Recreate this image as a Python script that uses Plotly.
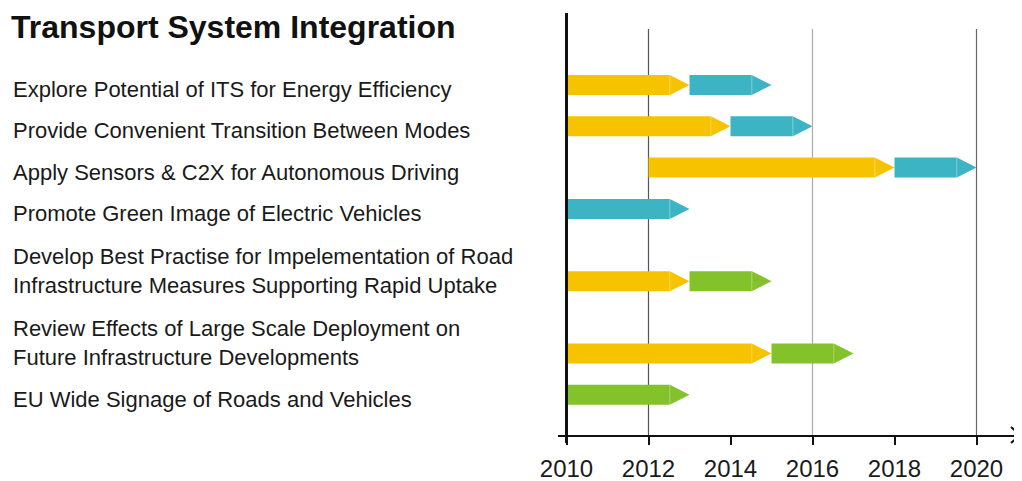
import plotly.graph_objects as go

# roadmap rows (top to bottom)
ACTIONS = [
    "Explore Potential of ITS for Energy Efficiency",
    "Provide Convenient Transition Between Modes",
    "Apply Sensors & C2X for Autonomous Driving",
    "Promote Green Image of Electric Vehicles",
    "Develop Best Practise for Impelementation of Road<br>Infrastructure Measures Supporting Rapid Uptake",
    "Review Effects of Large Scale Deployment on<br>Future Infrastructure Developments",
    "EU Wide Signage of Roads and Vehicles",
]

# phases per row: (start year, end year, phase)
PHASES = [
    [(2010, 2013, "yellow"), (2013, 2015, "cyan")],
    [(2010, 2014, "yellow"), (2014, 2016, "cyan")],
    [(2012, 2018, "yellow"), (2018, 2020, "cyan")],
    [(2010, 2013, "cyan")],
    [(2010, 2013, "yellow"), (2013, 2015, "green")],
    [(2010, 2015, "yellow"), (2015, 2017, "green")],
    [(2010, 2013, "green")],
]

YEAR_TICKS = [2010, 2012, 2014, 2016, 2018, 2020]
GRID_YEARS = [2012, 2016, 2020]

COLORS = {"yellow": "#F7C300", "cyan": "#3CB4C4", "green": "#83C22A"}
GRID_COLORS = {2012: "#555555", 2016: "#aaaaaa", 2020: "#666666"}
FONT = "Arial, Liberation Sans, sans-serif"

# page body has an 8px margin, so the figure is drawn 8px smaller
OFF = 8
W, H = 1022 - OFF, 481 - OFF
L, R, T, B = 558 - OFF, 2, 13 - OFF, 46
PX_YEAR = 41.0
ROW_PX = 41.3
FIRST_ROW = 85 - OFF
TIP = 0.48          # arrow tip length in years
HALF = 10 / ROW_PX  # half bar height in row units

# row positions: two-line labels take extra room
pos, ypos = 0.0, []
for i, a in enumerate(ACTIONS):
    if i:
        pos += 1 + 0.75 * a.count("<br>")
    ypos.append(pos)

x0 = 2010 - (566.5 - OFF - L) / PX_YEAR
x1 = x0 + (W - L - R) / PX_YEAR
ytop = -(FIRST_ROW - T) / ROW_PX
ybot = (H - B - FIRST_ROW) / ROW_PX

fig = go.Figure()
for y, segs in zip(ypos, PHASES):
    for s, e, ph in segs:
        fig.add_trace(go.Scatter(
            x=[s, e - TIP, e, e - TIP, s, s],
            y=[y - HALF, y - HALF, y, y + HALF, y + HALF, y - HALF],
            fill="toself", fillcolor=COLORS[ph], mode="lines",
            line=dict(width=0, color=COLORS[ph]), hoverinfo="skip",
            showlegend=False,
        ))
        # faint seam at the base of the tip
        fig.add_trace(go.Scatter(
            x=[e - TIP, e - TIP], y=[y - HALF, y + HALF], mode="lines",
            line=dict(width=1, color="rgba(255,255,255,0.35)"),
            hoverinfo="skip", showlegend=False,
        ))

plot_h = H - T - B
plot_w = W - L - R
shapes = []
for g in GRID_YEARS:
    shapes.append(dict(type="line", xref="x", yref="paper", x0=g, x1=g,
                       y0=0, y1=(H - B - (29 - OFF)) / plot_h,
                       line=dict(color=GRID_COLORS[g], width=1.2), layer="below"))
shapes.append(dict(type="line", xref="x", yref="paper", x0=2010, x1=2010,
                   y0=-8 / plot_h, y1=1, line=dict(color="#111111", width=3)))
shapes.append(dict(type="path", xref="paper", yref="paper",
                   xsizemode="pixel", ysizemode="pixel", xanchor=1, yanchor=0,
                   path="M -9,8 L 0,0 L -9,-8",
                   line=dict(color="#111111", width=2)))

annotations = [dict(
    text="<b>Transport System Integration</b>", xref="paper", yref="paper",
    x=(10 - OFF - L) / plot_w, y=1 + T / plot_h,
    xanchor="left", yanchor="top", borderpad=0,
    showarrow=False, font=dict(size=32, color="#111111", family=FONT),
)]
for y, a in zip(ypos, ACTIONS):
    annotations.append(dict(
        text=a, xref="paper", yref="y", x=(11 - OFF - L) / plot_w, y=y,
        xanchor="left", yanchor="bottom", yshift=-19, align="left",
        showarrow=False, font=dict(size=22, color="#1a1a1a", family=FONT),
    ))

fig.update_layout(
    width=W, height=H,
    margin=dict(l=L, r=R, t=T, b=B, autoexpand=False),
    paper_bgcolor="white", plot_bgcolor="white",
    font=dict(family=FONT, color="#1a1a1a"),
    shapes=shapes, annotations=annotations,
    xaxis=dict(range=[x0, x1], showgrid=False, zeroline=False,
               showline=True, linecolor="#111111", linewidth=2,
               ticks="outside", ticklen=8, tickwidth=2, tickcolor="#111111",
               ticklabelstandoff=3,
               tickvals=YEAR_TICKS, tickfont=dict(size=24, color="#1a1a1a")),
    yaxis=dict(range=[ybot, ytop], visible=False),
)

fig.write_html("out.html")
